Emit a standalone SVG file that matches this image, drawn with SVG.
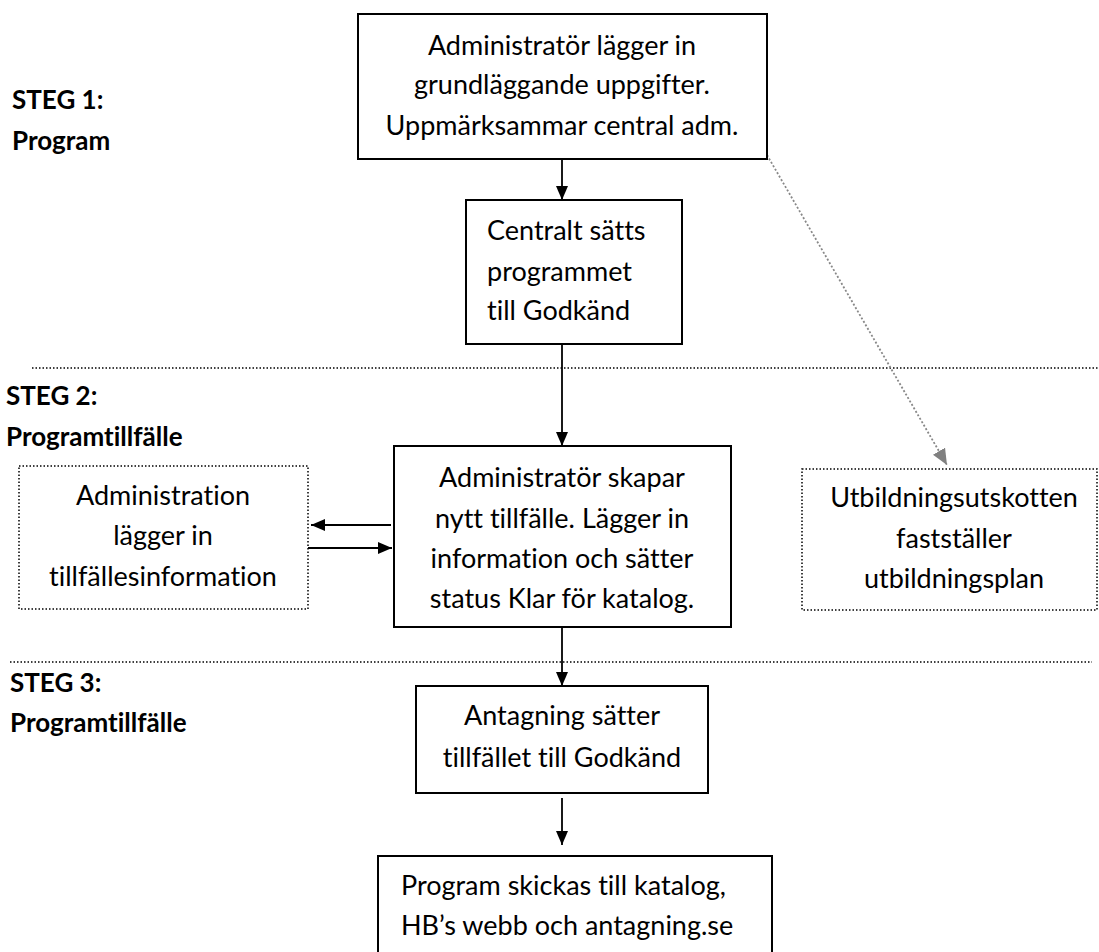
<svg xmlns="http://www.w3.org/2000/svg" width="1099" height="952" viewBox="0 0 1099 952">
<style>
text{font-family:Lato,"Noto Sans","Liberation Sans",sans-serif;fill:#000;font-variant-ligatures:none}
.t{font-size:27px}
.c{text-anchor:middle}
.lbl{font-size:26px;font-weight:bold}
.box{fill:#fff;stroke:#000;stroke-width:2}
.dbox{fill:#fff;stroke:#000;stroke-width:1.5;stroke-dasharray:1.5 2}
.sep{stroke:#000;stroke-width:1.5;stroke-dasharray:1.5 2;fill:none}
.arr{stroke:#000;stroke-width:1.8;fill:none;marker-end:url(#ah)}
.garr{stroke:#888;stroke-width:1.8;stroke-dasharray:2 2;fill:none;marker-end:url(#gh)}
</style>
<defs>
<marker id="ah" markerWidth="14" markerHeight="12" refX="14" refY="6" orient="auto" markerUnits="userSpaceOnUse"><path d="M0,0 L14,6 L0,12 Z" fill="#000"/></marker>
<marker id="gh" markerWidth="16" markerHeight="14" refX="16" refY="7" orient="auto" markerUnits="userSpaceOnUse"><path d="M0,0 L16,7 L0,14 Z" fill="#808080"/></marker>
</defs>
<rect width="1099" height="952" fill="#fff"/>
<g id="separators">
<line class="sep" x1="32" y1="368" x2="1099" y2="368"/>
<line class="sep" x1="10" y1="662" x2="1092" y2="662"/>
</g>
<g id="labels">
<text class="lbl" x="12" y="109">STEG 1:</text>
<text class="lbl" x="12" y="150">Program</text>
<text class="lbl" x="6" y="405">STEG 2:</text>
<text class="lbl" x="6" y="446">Programtillfälle</text>
<text class="lbl" x="10" y="692">STEG 3:</text>
<text class="lbl" x="10" y="732">Programtillfälle</text>
</g>
<g id="connectors">
<line class="arr" x1="562" y1="159" x2="562" y2="200"/>
<line class="arr" x1="562" y1="344" x2="562" y2="446"/>
<line class="arr" x1="562" y1="627" x2="562" y2="686"/>
<line class="arr" x1="562" y1="798" x2="562" y2="845"/>
<line class="arr" x1="391" y1="525" x2="311" y2="525"/>
<line class="arr" x1="308" y1="548" x2="392" y2="548"/>
<line class="garr" x1="767" y1="155" x2="947" y2="465"/>
</g>
<g id="n1">
<rect class="box" x="358" y="14" width="409" height="145"/>
<text class="t c" x="562" y="55">Administratör lägger in</text>
<text class="t c" x="562" y="94">grundläggande uppgifter.</text>
<text class="t c" x="562" y="135">Uppmärksammar central adm.</text>
</g>
<g id="n2">
<rect class="box" x="466" y="200" width="216" height="144"/>
<text class="t" x="487" y="240">Centralt sätts</text>
<text class="t" x="487" y="281">programmet</text>
<text class="t" x="487" y="320">till Godkänd</text>
</g>
<g id="n3">
<rect class="box" x="394" y="446" width="337" height="181"/>
<text class="t c" x="562" y="487">Administratör skapar</text>
<text class="t c" x="562" y="528">nytt tillfälle. Lägger in</text>
<text class="t c" x="562" y="568">information och sätter</text>
<text class="t c" x="562" y="608">status Klar för katalog.</text>
</g>
<g id="n4">
<rect class="dbox" x="19" y="466" width="289" height="143"/>
<text class="t c" x="163" y="505">Administration</text>
<text class="t c" x="163" y="545">lägger in</text>
<text class="t c" x="163" y="586">tillfällesinformation</text>
</g>
<g id="n5">
<rect class="dbox" x="802" y="469" width="295" height="141"/>
<text class="t c" x="954" y="507">Utbildningsutskotten</text>
<text class="t c" x="954" y="548">fastställer</text>
<text class="t c" x="954" y="588">utbildningsplan</text>
</g>
<g id="n6">
<rect class="box" x="416" y="686" width="292" height="107"/>
<text class="t c" x="562" y="725">Antagning sätter</text>
<text class="t c" x="562" y="767">tillfället till Godkänd</text>
</g>
<g id="n7">
<rect class="box" x="378" y="856" width="394" height="110"/>
<text class="t" x="401" y="895">Program skickas till katalog,</text>
<text class="t" x="401" y="935">HB’s webb och antagning.se</text>
</g>
</svg>
